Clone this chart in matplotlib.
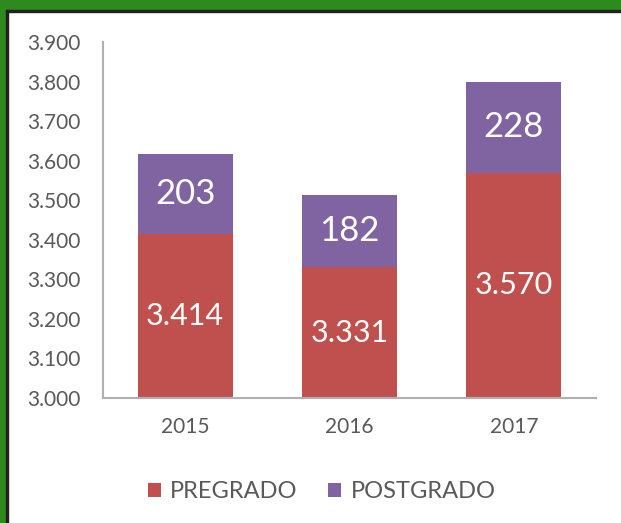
import matplotlib.pyplot as plt
from matplotlib.patches import Rectangle
from matplotlib.ticker import FuncFormatter

years = ["2015", "2016", "2017"]
pregrado = [3414, 3331, 3570]
postgrado = [203, 182, 228]
y_ticks = [3000, 3100, 3200, 3300, 3400, 3500, 3600, 3700, 3800, 3900]

RED = "#c0504d"
PURPLE = "#8064a2"
GREEN = "#2f8a1e"
GRAY = "#595959"

plt.rcParams['font.family'] = ['Lato', 'DejaVu Sans']

fig = plt.figure(figsize=(6.21, 5.23), dpi=100)
fig.patch.set_facecolor("white")

# green frame round the picture (top and left edges)
W, H = 621, 523
fig.patches.append(Rectangle((0, 1 - 10 / H), 1, 10 / H, transform=fig.transFigure,
                             color=GREEN, zorder=-2))
fig.patches.append(Rectangle((0, 0), 6 / W, 1, transform=fig.transFigure,
                             color=GREEN, zorder=-2))
fig.patches.append(Rectangle((6 / W, 1 - 11.5 / H), 1, 1.5 / H, transform=fig.transFigure,
                             color="#222222", zorder=-1))
fig.patches.append(Rectangle((6 / W, 0), 1.5 / W, 1 - 10 / H, transform=fig.transFigure,
                             color="#222222", zorder=-1))

ax = fig.add_axes([103 / W, 1 - 398 / H, (596 - 103) / W, (398 - 42) / H])

x = range(len(years))
ax.bar(x, pregrado, width=0.58, color=RED, label="PREGRADO")
ax.bar(x, postgrado, width=0.58, bottom=pregrado, color=PURPLE, label="POSTGRADO")

def fmt(v):
    return f"{int(v):,}".replace(",", ".")

for i in x:
    ax.text(i, (3000 + pregrado[i]) / 2, fmt(pregrado[i]), ha="center", va="center",
            color="white", fontsize=22)
    ax.text(i, pregrado[i] + postgrado[i] / 2, fmt(postgrado[i]), ha="center", va="center",
            color="white", fontsize=25)

ax.set_ylim(3000, 3900)
ax.set_xlim(-0.5, 2.5)
ax.set_yticks(y_ticks)
ax.yaxis.set_major_formatter(FuncFormatter(lambda v, p: fmt(v)))
ax.set_xticks(list(x))
ax.set_xticklabels(years)
ax.tick_params(axis="both", length=0, colors=GRAY, labelsize=15)
ax.tick_params(axis="y", pad=16.5)
ax.tick_params(axis="x", pad=14)

for s in ["top", "right"]:
    ax.spines[s].set_visible(False)
for s in ["left", "bottom"]:
    ax.spines[s].set_color("#b0b0b0")
    ax.spines[s].set_linewidth(1.5)

leg = fig.legend(loc="center", bbox_to_anchor=(0.518, 1 - 492 / H), ncol=2, frameon=False,
                 fontsize=17, handlelength=0.55, handleheight=0.55, columnspacing=1.3,
                 handletextpad=0.4)
for t in leg.get_texts():
    t.set_color(GRAY)

fig.savefig("out.png", dpi=100)
